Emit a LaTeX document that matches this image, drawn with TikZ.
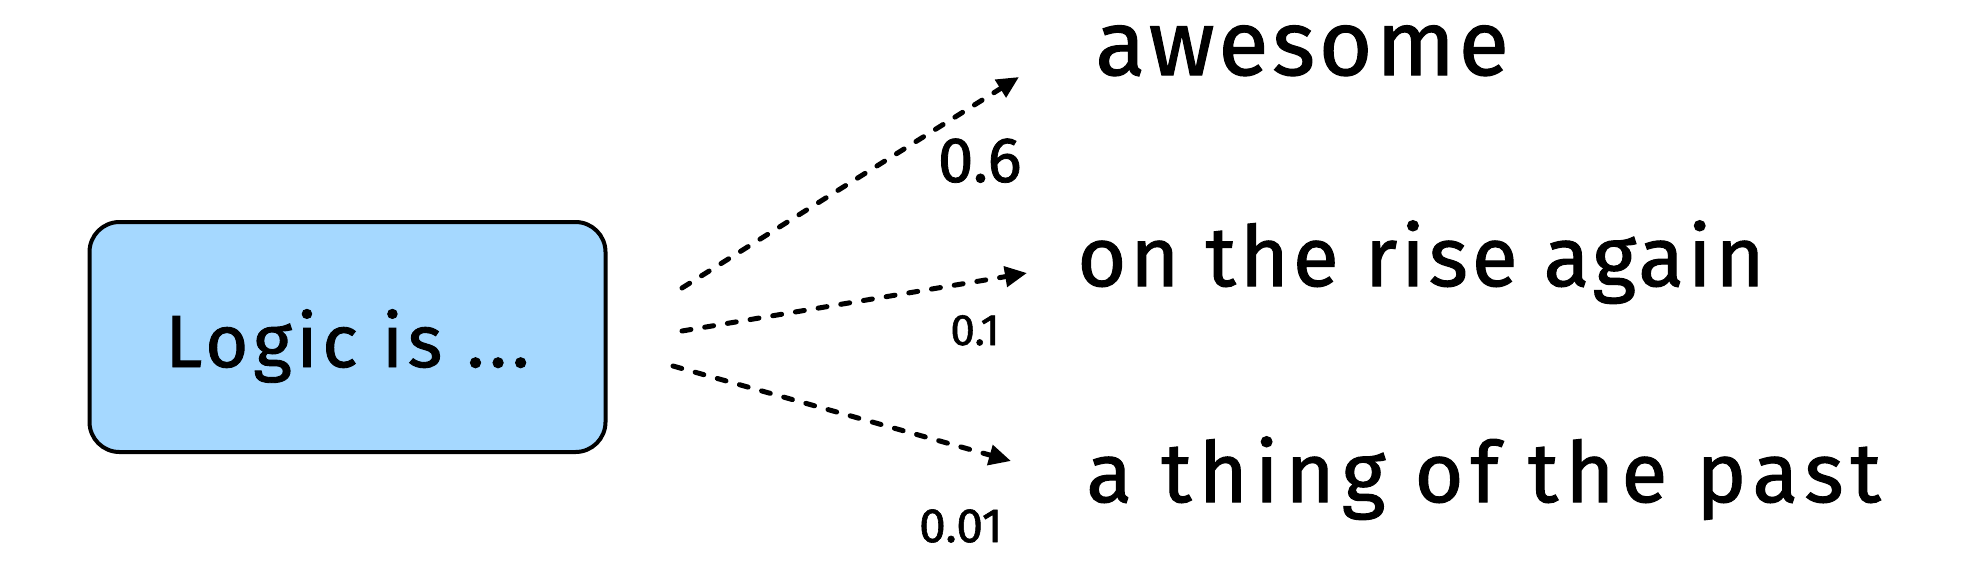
\documentclass[tikz,border=0pt]{standalone}
\usepackage{fontspec}
\setmainfont{Fira Sans}
\usetikzlibrary{arrows.meta}
\definecolor{boxblue}{HTML}{A5D8FF}
\newcommand{\handfont}[2]{\fontsize{#1}{#1}\selectfont\addfontfeature{LetterSpace=#2,FakeBold=1.2}}
\tikzset{
  box/.style={draw=black, line width=2pt, fill=boxblue, rounded corners=15pt,
    minimum width=258pt, minimum height=115pt, inner sep=0pt},
  arr/.style={line width=2.5pt, line cap=round, dash pattern=on 4.5pt off 7pt,
    -{Triangle[length=11pt,width=10pt]}},
  word/.style={inner sep=0pt, anchor=base west},
  prob/.style={inner sep=0pt, anchor=base east},
}
\begin{document}
\begin{tikzpicture}[x=0.5pt,y=-0.5pt]
\useasboundingbox (0,0) rectangle (1962,585);
\node[box] (logic) at (347.5,337) {};
\node[inner sep=0pt, anchor=base] (logictext) at (347.5,367) {\handfont{37pt}{6.5}Logic is ...};
\node[word] (w1) at (1095,75) {\handfont{46pt}{4}awesome};
\node[word] (w2) at (1077,286) {\handfont{42pt}{4.6}on the rise again};
\node[word] (w3) at (1086,502) {\handfont{42pt}{8.3}a thing of the past};
\node[prob] (p1) at (1022,182) {\handfont{32pt}{0}0.6};
\node[prob] (p2) at (1000,345) {\handfont{22pt}{0}0.1};
\node[prob] (p3) at (1003,542) {\handfont{24pt}{0}0.01};
\coordinate (s1) at (682,288);
\coordinate (e1) at (1019,77);
\coordinate (s2) at (682,331);
\coordinate (e2) at (1027,273);
\coordinate (s3) at (673,366);
\coordinate (e3) at (1011,461);
\draw[arr] (s1) -- (e1);
\draw[arr] (s2) -- (e2);
\draw[arr] (s3) -- (e3);
\end{tikzpicture}
\end{document}
